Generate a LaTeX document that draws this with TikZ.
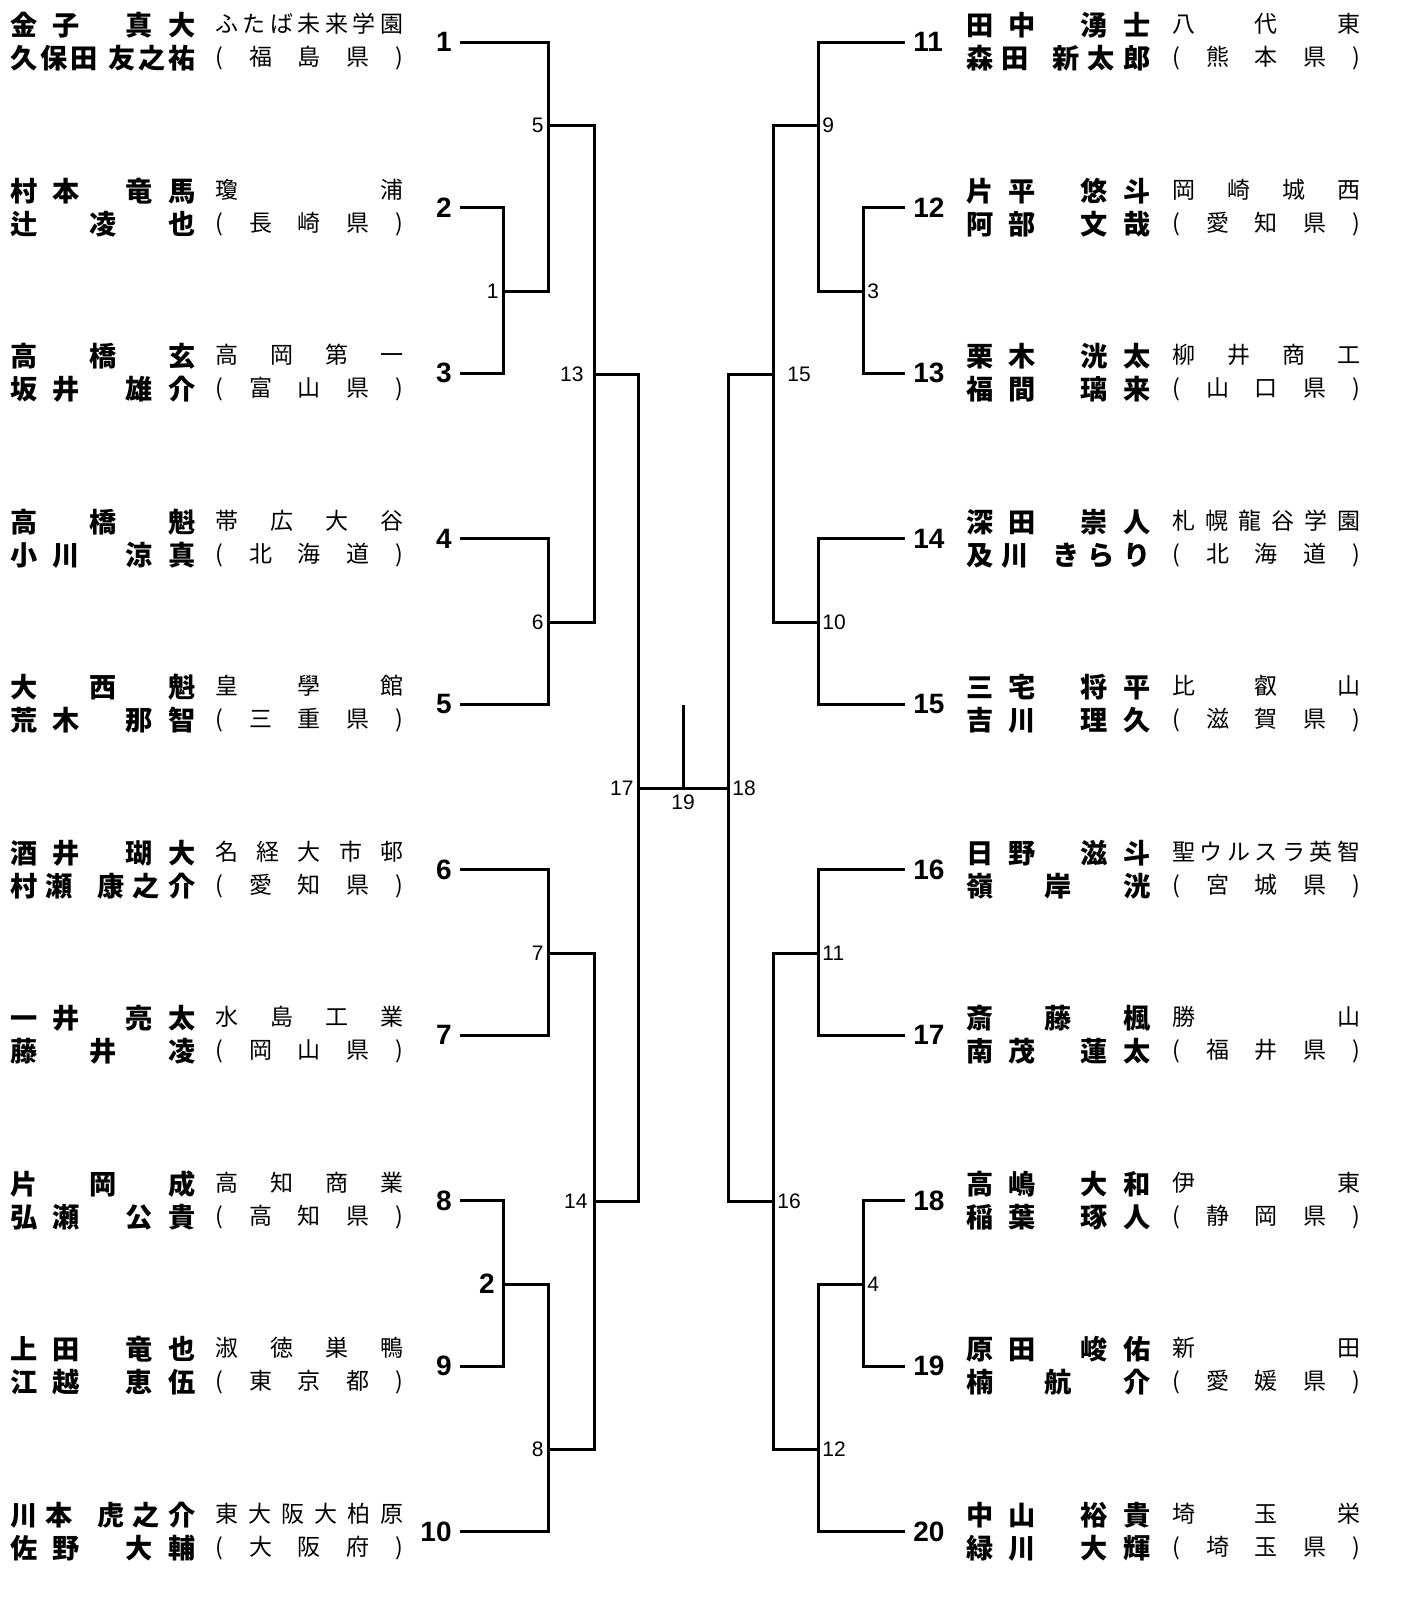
\documentclass[tikz,border=0pt]{standalone}
\usepackage{fontspec}
\setsansfont{Liberation Sans}
\newfontfamily\jpfont{Noto Sans CJK JP}
%
% spread the characters of a line over its box, each "|" widens a gap
\newcommand\spread[1]{\expandafter\spreadA#1\relax}
\def\spreadA#1{\ifx#1\relax\else#1\expandafter\spreadB\fi}
\def\spreadB#1{\ifx#1\relax\else\ifx#1|\hfill\else\hfill#1\fi\expandafter\spreadB\fi}
\newcommand\pairbox[3]{\vbox{\baselineskip=16.5pt
  \hbox to #1{\spread{#2}}\hbox to #1{\spread{#3}}}}
%
\tikzset{
  namecol/.style={anchor=west, inner sep=0pt, font=\jpfont\bfseries\fontsize{13.6}{16}\selectfont},
  schoolcol/.style={anchor=west, inner sep=0pt, font=\jpfont\fontsize{11.5}{14}\selectfont},
  entrynum/.style={inner xsep=4pt, inner ysep=1pt, font=\sffamily\bfseries\fontsize{14}{16}\selectfont},
  matchnum/.style={inner sep=2pt, font=\sffamily\fontsize{10.5}{12}\selectfont},
  bracket/.style={line width=1.5pt},
}
\begin{document}
\begin{tikzpicture}[x=0.5pt, y=-0.5pt]
\useasboundingbox (0,0) rectangle (1411,1606);
%
% Joueurs (gauche)
\foreach \k/\nA/\nB/\sA/\sB in {
  1/金子||真大/久保田|||友之祐/ふたば未来学園/(福島県),
  2/村本||竜馬/辻凌也/瓊浦/(長崎県),
  3/高橋玄/坂井||雄介/高岡第一/(富山県),
  4/高橋魁/小川||涼真/帯広大谷/(北海道),
  5/大西魁/荒木||那智/皇學館/(三重県),
  6/酒井||瑚大/村瀬||康之介/名経大市邨/(愛知県),
  7/一井||亮太/藤井凌/水島工業/(岡山県),
  8/片岡成/弘瀬||公貴/高知商業/(高知県),
  9/上田||竜也/江越||恵伍/淑徳巣鴨/(東京都),
  10/川本||虎之介/佐野||大輔/東大阪大柏原/(大阪府)}{
  \node [entrynum, anchor=east] (n\k) at (460,{42+165.5*(\k-1)}) {\k};
  \node [namecol] (nm\k) at (10,{42+165.5*(\k-1)}) {\pairbox{92.5pt}{\nA}{\nB}};
  \node [schoolcol] (sc\k) at (215,{42+165.5*(\k-1)}) {\pairbox{94pt}{\sA}{\sB}};
}
%
% Joueurs (droite)
\foreach \k/\nA/\nB/\sA/\sB in {
  11/田中||湧士/森田||新太郎/八代東/(熊本県),
  12/片平||悠斗/阿部||文哉/岡崎城西/(愛知県),
  13/栗木||洸太/福間||璃来/柳井商工/(山口県),
  14/深田||崇人/及川||きらり/札幌龍谷学園/(北海道),
  15/三宅||将平/吉川||理久/比叡山/(滋賀県),
  16/日野||滋斗/嶺岸洸/聖ウルスラ英智/(宮城県),
  17/斎藤楓/南茂||蓮太/勝山/(福井県),
  18/高嶋||大和/稲葉||琢人/伊東/(静岡県),
  19/原田||峻佑/楠航介/新田/(愛媛県),
  20/中山||裕貴/緑川||大輝/埼玉栄/(埼玉県)}{
  \node [entrynum, anchor=west] (n\k) at (905,{42+165.5*(\k-11)}) {\k};
  \node [namecol] (nm\k) at (966,{42+165.5*(\k-11)}) {\pairbox{92pt}{\nA}{\nB}};
  \node [schoolcol] (sc\k) at (1172,{42+165.5*(\k-11)}) {\pairbox{94pt}{\sA}{\sB}};
}
%
% Rencontres
\coordinate (m1) at (503,291);   \coordinate (m2) at (503,1284);
\coordinate (m3) at (863,291);   \coordinate (m4) at (863,1284);
\coordinate (m5) at (548,125);   \coordinate (m6) at (548,622);
\coordinate (m7) at (548,953);   \coordinate (m8) at (548,1449);
\coordinate (m9) at (818,125);   \coordinate (m10) at (818,622);
\coordinate (m11) at (818,953);  \coordinate (m12) at (818,1449);
\coordinate (m13) at (594,374);  \coordinate (m14) at (594,1201);
\coordinate (m15) at (773,374);  \coordinate (m16) at (773,1201);
\coordinate (m17) at (638,788);  \coordinate (m18) at (728,788);
\coordinate (m19) at (683,788);  \coordinate (top) at (683,705);
%
% Tableau gauche
\draw [bracket] (n2) -| (m1) |- (n3);
\draw [bracket] (n8) -| (m2) |- (n9);
\draw [bracket] (n1) -| (m5) |- (m1);
\draw [bracket] (n4) -| (m6) |- (n5);
\draw [bracket] (n6) -| (m7) |- (n7);
\draw [bracket] (m2) -| (m8) |- (n10);
\draw [bracket] (m5) -| (m13) |- (m6);
\draw [bracket] (m7) -| (m14) |- (m8);
\draw [bracket] (m13) -| (m17) |- (m14);
%
% Tableau droit
\draw [bracket] (n12) -| (m3) |- (n13);
\draw [bracket] (n18) -| (m4) |- (n19);
\draw [bracket] (n11) -| (m9) |- (m3);
\draw [bracket] (n14) -| (m10) |- (n15);
\draw [bracket] (n16) -| (m11) |- (n17);
\draw [bracket] (m4) -| (m12) |- (n20);
\draw [bracket] (m9) -| (m15) |- (m10);
\draw [bracket] (m11) -| (m16) |- (m12);
\draw [bracket] (m15) -| (m18) |- (m16);
%
% Finale
\draw [bracket] (m17) -- (m18);
\draw [bracket] (m19) -- (top);
%
% Numeros des rencontres
\node [matchnum, anchor=east] (l1) at (m1) {1};
\node [entrynum, anchor=east] (l2) at (m2) {2};
\node [matchnum, anchor=west] (l3) at (m3) {3};
\node [matchnum, anchor=west] (l4) at (m4) {4};
\node [matchnum, anchor=east] (l5) at (m5) {5};
\node [matchnum, anchor=east] (l6) at (m6) {6};
\node [matchnum, anchor=east] (l7) at (m7) {7};
\node [matchnum, anchor=east] (l8) at (m8) {8};
\node [matchnum, anchor=west] (l9) at (m9) {9};
\node [matchnum, anchor=west] (l10) at (m10) {10};
\node [matchnum, anchor=west] (l11) at (m11) {11};
\node [matchnum, anchor=west] (l12) at (m12) {12};
\node [matchnum, anchor=east, xshift=-3pt] (l13) at (m13) {13};
\node [matchnum, anchor=east, xshift=-1pt] (l14) at (m14) {14};
\node [matchnum, anchor=west, xshift=5pt] (l15) at (m15) {15};
\node [matchnum, anchor=west] (l16) at (m16) {16};
\node [matchnum, anchor=east] (l17) at (m17) {17};
\node [matchnum, anchor=west] (l18) at (m18) {18};
\node [matchnum, anchor=north, yshift=-1pt] (l19) at (m19) {19};
%
\end{tikzpicture}
\end{document}
